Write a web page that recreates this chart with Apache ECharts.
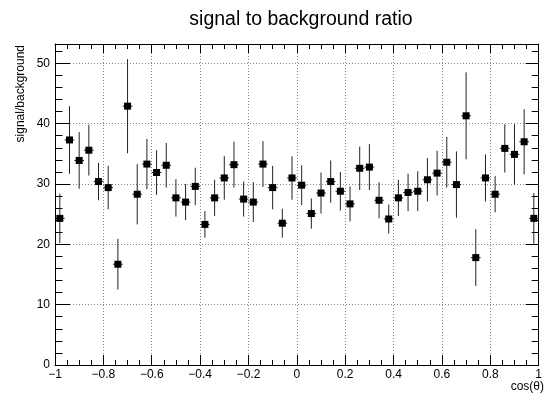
<!DOCTYPE html>
<html>
<head>
	<meta charset="utf-8">
	<title>signal to background ratio</title>
	<script src="https://cdn.jsdelivr.net/npm/echarts@6/dist/echarts.min.js"></script>
	<style>
		html, body { margin: 0; padding: 0; background: #fff; }
	</style>
</head>
<body>
	<div id="main" style="width: 545px; height: 395px;"></div>
	<script type="text/javascript">
		// bin centres of cos(theta), 50 bins from -1 to 1
		var binCenters = [
			-0.98, -0.94, -0.90, -0.86, -0.82, -0.78, -0.74, -0.70, -0.66, -0.62,
			-0.58, -0.54, -0.50, -0.46, -0.42, -0.38, -0.34, -0.30, -0.26, -0.22,
			-0.18, -0.14, -0.10, -0.06, -0.02, 0.02, 0.06, 0.10, 0.14, 0.18,
			0.22, 0.26, 0.30, 0.34, 0.38, 0.42, 0.46, 0.50, 0.54, 0.58,
			0.62, 0.66, 0.70, 0.74, 0.78, 0.82, 0.86, 0.90, 0.94, 0.98
		];
		var ratio = [
			24.3, 37.3, 33.9, 35.6, 30.4, 29.4, 16.7, 42.9, 28.3, 33.3,
			31.9, 33.1, 27.7, 27.0, 29.6, 23.3, 27.7, 31.0, 33.2, 27.5,
			27.0, 33.3, 29.4, 23.5, 31.0, 29.8, 25.1, 28.5, 30.4, 28.8,
			26.7, 32.6, 32.8, 27.3, 24.2, 27.7, 28.6, 28.8, 30.7, 31.8,
			33.6, 29.9, 41.3, 17.8, 31.0, 28.3, 35.9, 34.9, 37.0, 24.3
		];
		var ratioErr = [
			4.1, 5.6, 4.7, 4.2, 3.1, 3.6, 4.2, 7.8, 5.0, 4.2,
			3.7, 3.7, 3.1, 3.0, 3.1, 2.2, 3.0, 3.6, 3.8, 2.9,
			3.3, 3.8, 3.6, 2.4, 3.6, 3.3, 2.5, 3.4, 3.5, 3.2,
			2.9, 3.6, 3.8, 3.0, 2.4, 3.0, 3.1, 3.3, 3.6, 3.7,
			4.2, 5.5, 7.2, 4.7, 3.9, 3.0, 4.0, 5.0, 5.4, 4.2
		];
		var binHalfWidth = 0.02;

		var myChart = echarts.init(document.getElementById('main'));
		var font = 'Liberation Sans, Arial, Helvetica, sans-serif';

		var points = binCenters.map(function (x, i) {
			return [x, ratio[i], ratioErr[i]];
		});

		function minus(v) {
			return String(v).replace('-', '\u2212');
		}

		var gridLine = { show: true, lineStyle: { color: '#888', type: [1, 2], width: 1 } };

		function axLine(main) {
			return { show: main, onZero: false, lineStyle: { color: '#000', width: 1 } };
		}

		function xAx(pos, interval, len, main) {
			return {
				type: 'value', position: pos, min: -1, max: 1, interval: interval,
				axisLine: axLine(main),
				axisTick: { show: true, inside: true, length: len, lineStyle: { color: '#000' } },
				axisLabel: { show: main && pos === 'bottom', margin: 4, color: '#000', fontSize: 12,
					fontFamily: font, formatter: minus },
				splitLine: main && pos === 'bottom' ? gridLine : { show: false }
			};
		}
		function yAx(pos, interval, len, main) {
			return {
				type: 'value', position: pos, min: 0, max: 53.2, interval: interval,
				axisLine: axLine(main),
				axisTick: { show: true, inside: true, length: len, lineStyle: { color: '#000' } },
				axisLabel: { show: main && pos === 'left', margin: 5, color: '#000', fontSize: 12,
					fontFamily: font,
					formatter: function (v) { return v % 10 === 0 ? String(v) : ''; } },
				splitLine: main && pos === 'left' ? gridLine : { show: false }
			};
		}

		var option = {
			animation: false,
			title: {
				text: 'signal to background ratio',
				left: 296, top: 5, textAlign: 'center',
				textStyle: { fontFamily: font, fontSize: 19.5, fontWeight: 'normal', color: '#000' }
			},
			grid: { left: 55, right: 0, top: 44, bottom: 30 },
			xAxis: [
				xAx('bottom', 0.2, 10, true),
				xAx('bottom', 0.05, 5, false),
				xAx('top', 0.2, 9, true),
				xAx('top', 0.05, 5, false)
			],
			yAxis: [
				yAx('left', 10, 15, true),
				yAx('left', 2, 7.5, false),
				yAx('right', 10, 13, true),
				yAx('right', 2, 7, false)
			],
			graphic: [
				{
					type: 'text', x: 21, y: 45, rotation: Math.PI / 2,
					style: { text: 'signal/background', font: '12px ' + font, fill: '#000',
						align: 'right', verticalAlign: 'middle' }
				},
				{
					type: 'text', x: 544, y: 387,
					style: { text: 'cos(\u03b8)', font: '12px ' + font, fill: '#000',
						align: 'right', verticalAlign: 'middle' }
				}
			],
			series: [
				{
					type: 'custom',
					xAxisIndex: 0, yAxisIndex: 0,
					data: points,
					renderItem: function (params, api) {
						var x = api.value(0), y = api.value(1), e = api.value(2);
						var top = api.coord([x, y + e]);
						var bot = api.coord([x, y - e]);
						var l = api.coord([x - binHalfWidth, y]);
						var r = api.coord([x + binHalfWidth, y]);
						var st = { stroke: '#222', lineWidth: 1 };
						return {
							type: 'group',
							children: [
								{ type: 'line', shape: { x1: top[0], y1: top[1], x2: bot[0], y2: bot[1] }, style: st },
								{ type: 'line', shape: { x1: l[0], y1: l[1], x2: r[0], y2: r[1] }, style: st }
							]
						};
					},
					z: 2
				},
				{
					type: 'scatter',
					xAxisIndex: 0, yAxisIndex: 0,
					data: points,
					symbol: 'rect',
					symbolSize: 7,
					itemStyle: { color: '#000', opacity: 1 },
					z: 3
				}
			]
		};

		myChart.setOption(option);
	</script>
</body>
</html>
